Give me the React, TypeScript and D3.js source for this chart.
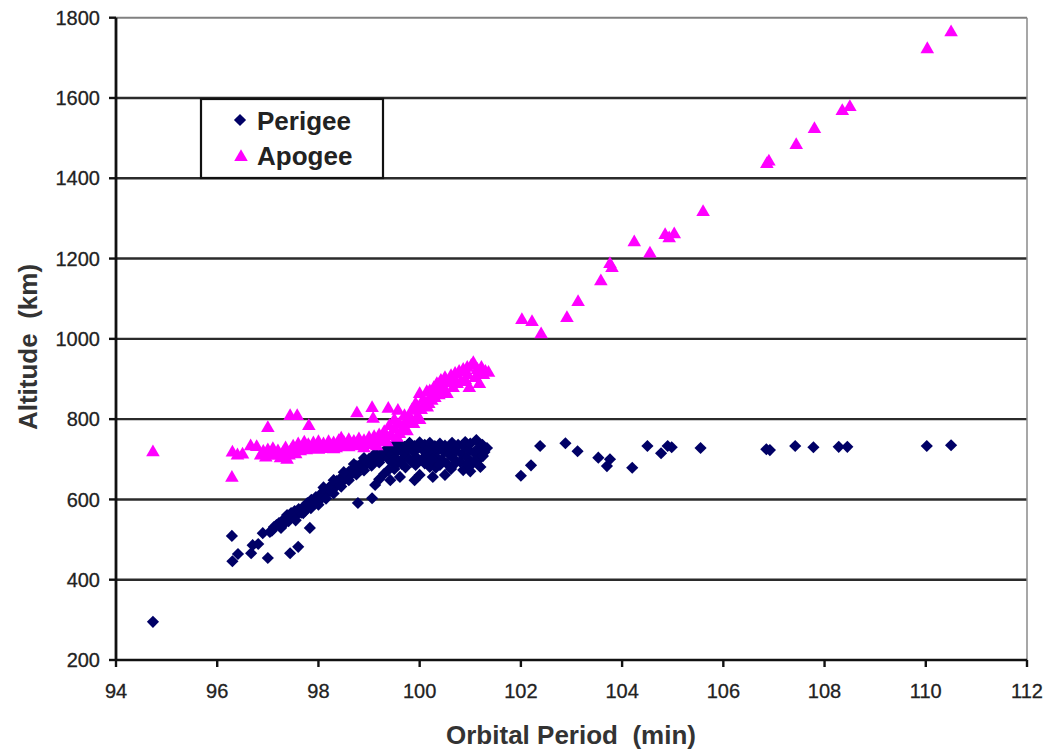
import React from "react";
import * as d3 from "d3";

const xTicks = [94, 96, 98, 100, 102, 104, 106, 108, 110, 112];
const yTicks = [200, 400, 600, 800, 1000, 1200, 1400, 1600, 1800];
const seriesNames = ["Perigee", "Apogee"];
const xTitle = "Orbital Period  (min)";
const yTitle = "Altitude  (km)";

// [orbital period (min), altitude (km)]
const perigee: [number, number][] = [
  [94.73, 295], [96.29, 509], [96.3, 446], [96.41, 464], [96.67, 466], [96.7, 486], [96.81, 489],
  [97.0, 454], [96.9, 516], [97.04, 519], [97.44, 466], [97.6, 482], [97.83, 529], [98.78, 591],
  [97.08, 522], [97.12, 531], [97.17, 536], [97.22, 541], [97.26, 529], [97.3, 548], [97.34, 553],
  [97.38, 561], [97.41, 546], [97.46, 566], [97.5, 557], [97.53, 571], [97.57, 561], [97.61, 576],
  [97.66, 567], [97.7, 581], [97.73, 571], [97.78, 591], [97.82, 584], [97.86, 599], [97.9, 591],
  [97.95, 606], [98.0, 599], [98.04, 613], [98.08, 605], [98.12, 621], [98.16, 614], [98.2, 629],
  [98.24, 621], [98.28, 637], [98.32, 629], [98.36, 646], [98.4, 639], [98.44, 653], [98.48, 645],
  [98.52, 661], [98.56, 654], [98.6, 669], [98.64, 661], [98.68, 676], [98.72, 669], [98.76, 683],
  [98.8, 676], [98.84, 689], [98.88, 682], [98.92, 695], [98.96, 689], [99.0, 701], [99.04, 694],
  [99.08, 706], [99.12, 699], [99.16, 711], [99.2, 705], [99.24, 713], [99.28, 707],
  [97.3, 536], [97.4, 552], [97.55, 548], [97.7, 566], [97.85, 578], [98.0, 587], [98.15, 602],
  [98.3, 615], [98.45, 632], [98.6, 648], [98.75, 662], [98.9, 672], [99.05, 684], [99.2, 692],
  [98.1, 630], [98.3, 648], [98.5, 668], [98.7, 688], [98.9, 703], [99.1, 712],
  [99.06, 603], [99.12, 636], [99.38, 673], [99.42, 648], [99.61, 656], [99.9, 648], [100.0, 661],
  [100.26, 656], [100.5, 661], [100.2, 681], [99.2, 650], [99.5, 676], [99.72, 680], [100.32, 679],
  [100.62, 676], [100.86, 673], [101.0, 670], [101.2, 681], [99.3, 664], [99.55, 690], [99.92, 686],
  [99.3, 716], [99.35, 726], [99.38, 701], [99.42, 731], [99.45, 712], [99.5, 736], [99.52, 704],
  [99.56, 722], [99.6, 739], [99.63, 697], [99.67, 716], [99.7, 731], [99.74, 707], [99.78, 726],
  [99.8, 741], [99.84, 694], [99.88, 719], [99.9, 733], [99.94, 704], [99.98, 729], [100.0, 742],
  [100.04, 699], [100.08, 721], [100.1, 736], [100.14, 709], [100.18, 728], [100.2, 741],
  [100.24, 694], [100.28, 716], [100.3, 733], [100.34, 704], [100.38, 726], [100.4, 739],
  [100.44, 699], [100.48, 718], [100.5, 734], [100.54, 689], [100.58, 712], [100.6, 729],
  [100.64, 741], [100.68, 701], [100.72, 721], [100.76, 736], [100.8, 694], [100.84, 712],
  [100.88, 731], [100.9, 743], [100.94, 704], [100.98, 722], [101.0, 739], [101.04, 689],
  [101.08, 716], [101.12, 748], [101.16, 728], [101.2, 704], [101.24, 736], [101.28, 718],
  [101.33, 728], [99.65, 688], [99.8, 700], [100.1, 690], [100.4, 686], [100.7, 690],
  [100.95, 688], [101.1, 697], [101.25, 708], [99.45, 692], [100.25, 700],
  [102.0, 659], [102.2, 685], [102.38, 733], [102.88, 740], [103.12, 720], [103.53, 704],
  [103.76, 700], [103.7, 683], [104.2, 679], [104.5, 733], [104.77, 715], [104.9, 733],
  [104.98, 730], [105.55, 728], [106.85, 725], [106.92, 723], [107.42, 733], [107.78, 730],
  [108.28, 731], [108.45, 731], [110.02, 733], [110.5, 735],
];

const apogee: [number, number][] = [
  [94.73, 720], [96.29, 656], [96.3, 719], [96.4, 712], [96.5, 714], [96.66, 735], [96.78, 733],
  [97.0, 780], [97.44, 810], [97.58, 810], [97.81, 785],
  [96.86, 712], [96.91, 721], [96.96, 707], [97.0, 725], [97.05, 714], [97.1, 728], [97.15, 711],
  [97.2, 722], [97.25, 705], [97.3, 718], [97.35, 730], [97.38, 701], [97.42, 712], [97.46, 725],
  [97.5, 734], [97.55, 715], [97.6, 740], [97.64, 722], [97.68, 732], [97.72, 744], [97.76, 725],
  [97.8, 738], [97.85, 728], [97.9, 742], [97.95, 730], [98.0, 745], [98.05, 732], [98.1, 740],
  [98.15, 728], [98.2, 745], [98.25, 735], [98.3, 742], [98.35, 730], [98.4, 748], [98.45, 736],
  [98.5, 744], [98.55, 733], [98.6, 750], [98.65, 738], [98.7, 746], [98.75, 735], [98.8, 752],
  [98.85, 740], [98.9, 748], [98.95, 738], [99.0, 755], [99.05, 742], [99.1, 758], [99.15, 745],
  [99.2, 762], [99.25, 750],
  [98.0, 726], [98.3, 727], [98.6, 732], [98.9, 730], [99.15, 735], [99.3, 752], [98.45, 754],
  [98.76, 817], [99.06, 830], [99.08, 803], [99.38, 828], [99.57, 823], [99.81, 806], [99.87, 823],
  [100.15, 831],
  [99.3, 770], [99.35, 745], [99.4, 785], [99.45, 760], [99.5, 800], [99.55, 756], [99.6, 790],
  [99.65, 775], [99.7, 810], [99.75, 772], [99.8, 800], [99.85, 825], [99.88, 790], [99.92, 840],
  [99.96, 810], [100.0, 865], [100.03, 825], [100.07, 850], [100.1, 835], [100.14, 870],
  [100.18, 840], [100.2, 872], [100.24, 848], [100.28, 880], [100.3, 855], [100.34, 890],
  [100.38, 862], [100.42, 898], [100.46, 875], [100.5, 905], [100.54, 865], [100.58, 892],
  [100.62, 910], [100.66, 880], [100.7, 915], [100.74, 890], [100.78, 920], [100.82, 895],
  [100.86, 925], [100.9, 900], [100.94, 930], [100.98, 880], [101.02, 935], [101.06, 942],
  [101.1, 905], [101.14, 925], [101.18, 890], [101.22, 930], [101.26, 912], [101.3, 920],
  [101.36, 918], [99.5, 778], [99.7, 790], [99.95, 832], [100.2, 855], [100.45, 885],
  [100.7, 900], [100.95, 912], [101.2, 915], [99.6, 765], [100.0, 800], [100.35, 870],
  [102.02, 1049], [102.22, 1044], [102.4, 1014], [102.91, 1054], [103.13, 1094], [103.58, 1146],
  [103.76, 1189], [103.8, 1179], [104.24, 1243], [104.55, 1215], [104.85, 1261], [104.93, 1253],
  [105.03, 1263], [105.6, 1318], [106.86, 1438], [106.9, 1444], [107.44, 1485], [107.8, 1525],
  [108.35, 1570], [108.5, 1580], [110.03, 1724], [110.5, 1766],
];

const W = 1045;
const H = 751;
const left = 116;
const right = 1027;
const top = 17.7;
const bottom = 660;

export default function App() {
  const x = d3.scaleLinear().domain([94, 112]).range([left, right]);
  const y = d3.scaleLinear().domain([200, 1800]).range([bottom, top]);
  const diamond = d3.symbol().type(d3.symbolSquare).size(74)() as string;
  const tri = d3.symbol().type(d3.symbolTriangle).size(80)() as string;
  const font = "Liberation Sans, Arial, sans-serif";
  const navy = "#000066";
  const magenta = "#ff00ff";

  return (
    <svg width={W} height={H} style={{ position: "absolute", left: 0, top: 0, background: "#fff" }}
      fontFamily={font}>
      <rect x={0} y={0} width={W} height={H} fill="#fff" />
      {/* gridlines */}
      {yTicks.filter((t) => t > 200).map((t) => (
        <line key={"g" + t} x1={left} x2={right} y1={y(t)} y2={y(t)}
          stroke={t === 1800 ? "#808080" : "#2b2b2b"} strokeWidth={t === 1800 ? 2 : 2.4} />
      ))}
      {/* right border */}
      <line x1={right} x2={right} y1={y(1800)} y2={y(200)} stroke="#8a8a8a" strokeWidth={1.5} />
      {/* axes */}
      <line x1={left} x2={right} y1={bottom} y2={bottom} stroke="#111" strokeWidth={2.6} />
      <line x1={left} x2={left} y1={top} y2={bottom} stroke="#111" strokeWidth={2.8} />
      {yTicks.map((t) => (
        <g key={"y" + t}>
          <line x1={left - 7} x2={left} y1={y(t)} y2={y(t)} stroke="#111" strokeWidth={2.4} />
          <text x={left - 16} y={y(t)} dy="0.36em" textAnchor="end" fontSize={20} fill="#222"
            stroke="#222" strokeWidth={0.3}>{t}</text>
        </g>
      ))}
      {xTicks.map((t) => (
        <g key={"x" + t}>
          <line x1={x(t)} x2={x(t)} y1={bottom} y2={bottom + 7} stroke="#111" strokeWidth={2.4} />
          <text x={x(t)} y={698} textAnchor="middle" fontSize={20} fill="#222"
            stroke="#222" strokeWidth={0.3}>{t}</text>
        </g>
      ))}
      {/* points */}
      {perigee.map(([px, py], i) => (
        <path key={"p" + i} d={diamond} transform={`translate(${x(px)},${y(py)}) rotate(45)`} fill={navy} />
      ))}
      {apogee.map(([px, py], i) => (
        <path key={"a" + i} d={tri} transform={`translate(${x(px)},${y(py) + 1})`} fill={magenta} />
      ))}
      {/* axis titles */}
      <text x={571} y={744} textAnchor="middle" fontSize={26} fontWeight="bold" fill="#333"
        style={{ whiteSpace: "pre" }}>{xTitle}</text>
      <text transform="translate(37,347) rotate(-90)" textAnchor="middle" fontSize={26} fontWeight="bold"
        fill="#333" style={{ whiteSpace: "pre" }}>{yTitle}</text>
      {/* legend */}
      <rect x={201} y={99} width={182} height={79} fill="#fff" stroke="#111" strokeWidth={2.2} />
      <path d={diamond} transform="translate(240,120) rotate(45)" fill={navy} />
      <text x={257} y={130} fontSize={26} fontWeight="bold" fill="#222">{seriesNames[0]}</text>
      <path d={tri} transform="translate(241,157)" fill={magenta} />
      <text x={257} y={165} fontSize={26} fontWeight="bold" fill="#222">{seriesNames[1]}</text>
    </svg>
  );
}
